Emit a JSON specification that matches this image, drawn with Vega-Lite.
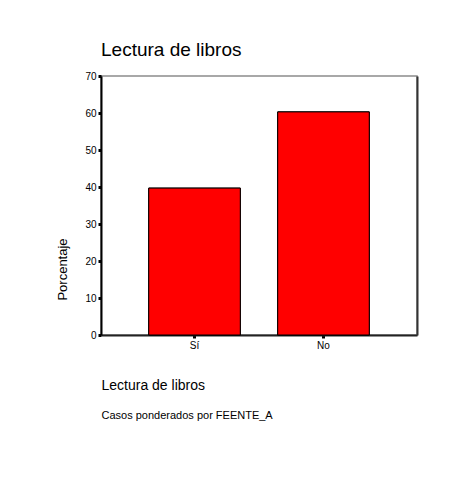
{
  "$schema": "https://vega.github.io/schema/vega-lite/v6.json",
  "width": 316,
  "height": 259,
  "autosize": {"type": "none"},
  "padding": {"left": 101, "top": 76, "right": 32, "bottom": 144},
  "background": "white",
  "config": {
    "font": "Liberation Sans",
    "view": {"stroke": "#8c8c8c", "strokeWidth": 1.5},
    "axis": {"grid": false, "labelColor": "black", "titleColor": "black", "titleFontWeight": "normal", "labelFont": "Liberation Sans", "titleFont": "Liberation Sans"}
  },
  "title": {
    "text": "Lectura de libros",
    "anchor": "start",
    "frame": "group",
    "fontSize": 19,
    "fontWeight": "normal",
    "color": "black",
    "baseline": "alphabetic",
    "offset": -4
  },
  "data": {
    "values": [
      {"lectura": "Sí", "porcentaje": 39.7},
      {"lectura": "No", "porcentaje": 60.3}
    ]
  },
  "resolve": {"axis": {"x": "independent", "y": "independent"}},
  "layer": [
    {
      "mark": {"type": "bar", "color": "#FF0000", "stroke": "black", "strokeWidth": 1},
      "encoding": {
        "x": {
          "field": "lectura",
          "type": "nominal",
          "sort": ["Sí", "No"],
          "scale": {"paddingInner": 0.29, "paddingOuter": 0.37},
          "axis": {
            "orient": "bottom",
            "title": "Lectura de libros",
            "titleFontSize": 14,
            "titleAnchor": "start",
            "titleAlign": "left",
            "titleX": 0,
            "titleY": 54,
            "titleBaseline": "alphabetic",
            "labelAngle": 0,
            "labelFontSize": 10,
            "labelPadding": 2,
            "tickSize": 3,
            "tickWidth": 3,
            "tickColor": "black",
            "domainColor": "#222222",
            "domainWidth": 2
          }
        },
        "y": {
          "field": "porcentaje",
          "type": "quantitative",
          "scale": {"domain": [0, 70], "nice": false},
          "axis": {
            "orient": "left",
            "title": "Porcentaje",
            "titleFontSize": 13,
            "titleAngle": -90,
            "titleAlign": "center",
            "titleBaseline": "middle",
            "titleX": -39,
            "titleY": 193,
            "values": [0, 10, 20, 30, 40, 50, 60, 70],
            "labelFontSize": 10,
            "labelPadding": 2,
            "tickSize": 3,
            "tickWidth": 3,
            "tickColor": "black",
            "domainColor": "black",
            "domainWidth": 2
          }
        }
      }
    },
    {
      "mark": {"type": "bar", "color": "#FF0000", "stroke": "black", "strokeWidth": 1},
      "encoding": {
        "x": {
          "field": "lectura",
          "type": "nominal",
          "sort": ["Sí", "No"],
          "axis": {
            "orient": "bottom",
            "title": "Casos ponderados por FEENTE_A",
            "titleFontSize": 11,
            "titleAnchor": "start",
            "titleAlign": "left",
            "titleX": 0,
            "titleY": 83,
            "titleBaseline": "alphabetic",
            "labels": false,
            "ticks": false,
            "domain": false
          }
        },
        "y": {
          "field": "porcentaje",
          "type": "quantitative",
          "axis": {
            "orient": "right",
            "title": null,
            "labels": false,
            "ticks": false,
            "domainColor": "#333333",
            "domainWidth": 2
          }
        }
      }
    }
  ]
}
